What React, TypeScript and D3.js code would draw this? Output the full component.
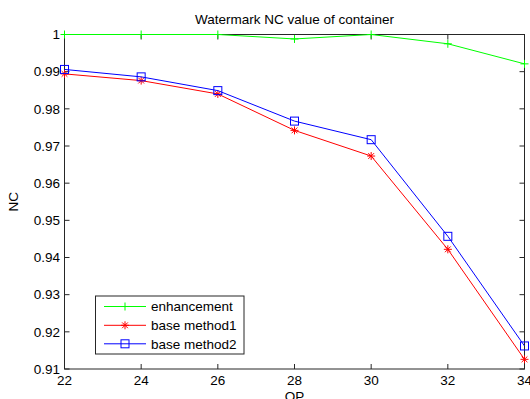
import React from "react";
import * as d3 from "d3";

// Quantisation parameters on the x axis
const qp = [22, 24, 26, 28, 30, 32, 34];

// NC values per method
const enhancement = [1.0, 1.0, 1.0, 0.9988, 1.0, 0.9975, 0.9921];
const baseMethod1 = [0.9894, 0.9876, 0.984, 0.9742, 0.9673, 0.9422, 0.9126];
const baseMethod2 = [0.9906, 0.9886, 0.9849, 0.9767, 0.9717, 0.9457, 0.9162];

const xTicks = [22, 24, 26, 28, 30, 32, 34];
const yTicks = [0.91, 0.92, 0.93, 0.94, 0.95, 0.96, 0.97, 0.98, 0.99, 1];

const seriesNames = ["enhancement", "base method1", "base method2"];
const seriesColors = ["#00ff00", "#ff0000", "#0000ff"];
const seriesMarkers = ["plus", "star", "square"];

const W = 530;
const H = 399;
const left = 64.5;
const right = 524.5;
const top = 34.5;
const bottom = 369;
const font = "'Liberation Sans', Arial, sans-serif";
const fs = 13.5;
const axisColor = "#262626";

function Marker({ kind, x, y, color }: { kind: string; x: number; y: number; color: string }) {
  const r = 4;
  if (kind === "plus") {
    return (
      <path d={`M${x - r},${y}H${x + r}M${x},${y - r}V${y + r}`} stroke={color} strokeWidth={1} fill="none" />
    );
  }
  if (kind === "star") {
    const d = r * 0.72;
    return (
      <path
        d={`M${x - r},${y}H${x + r}M${x},${y - r}V${y + r}M${x - d},${y - d}L${x + d},${y + d}M${x - d},${y + d}L${x + d},${y - d}`}
        stroke={color}
        strokeWidth={1}
        fill="none"
      />
    );
  }
  return <rect x={x - r} y={y - r} width={2 * r} height={2 * r} stroke={color} strokeWidth={1} fill="none" />;
}

export default function App() {
  const x = d3.scaleLinear().domain([22, 34]).range([left, right]);
  const y = d3.scaleLinear().domain([0.91, 1]).range([bottom, top]);
  const fmt = d3.format("~g");
  const series = [enhancement, baseMethod1, baseMethod2];
  const line = d3
    .line<number>()
    .x((_, i) => x(qp[i]))
    .y((v) => y(v));

  const tickLen = 5;
  const legX = 95.5;
  const legY = 296;
  const legW = 148.5;
  const legH = 58;
  const rowY = [306.5, 325.3, 343.8];

  return (
    <svg
      width={W}
      height={H}
      style={{ position: "absolute", left: 0, top: 0, background: "#fff" }}
      fontFamily={font}
    >
      <rect width={W} height={H} fill="#fff" />
      {/* axes box */}
      <rect x={left} y={top} width={right - left} height={bottom - top} fill="#fff" stroke={axisColor} strokeWidth={1} />
      {/* ticks */}
      {xTicks.map((t) => (
        <g key={`x${t}`}>
          <line x1={x(t)} x2={x(t)} y1={bottom} y2={bottom - tickLen} stroke={axisColor} />
          <line x1={x(t)} x2={x(t)} y1={top} y2={top + tickLen} stroke={axisColor} />
          <text x={x(t)} y={384.5} fontSize={fs} textAnchor="middle" fill="#000">
            {fmt(t)}
          </text>
        </g>
      ))}
      {yTicks.map((t) => (
        <g key={`y${t}`}>
          <line x1={left} x2={left + tickLen} y1={y(t)} y2={y(t)} stroke={axisColor} />
          <line x1={right} x2={right - tickLen} y1={y(t)} y2={y(t)} stroke={axisColor} />
          <text x={60} y={y(t)} dy="0.35em" fontSize={fs} textAnchor="end" fill="#000">
            {fmt(t)}
          </text>
        </g>
      ))}
      {/* series */}
      {series.map((s, si) => (
        <g key={seriesNames[si]}>
          <path d={line(s) || ""} fill="none" stroke={seriesColors[si]} strokeWidth={1} />
          {s.map((v, i) => (
            <Marker key={i} kind={seriesMarkers[si]} x={x(qp[i])} y={y(v)} color={seriesColors[si]} />
          ))}
        </g>
      ))}
      {/* labels */}
      <text x={(left + right) / 2} y={24} fontSize={fs} textAnchor="middle" fill="#000">
        Watermark NC value of container
      </text>
      <text x={(left + right) / 2} y={401} fontSize={fs} textAnchor="middle" fill="#000">
        QP
      </text>
      <text
        transform={`translate(17.5,${(top + bottom) / 2}) rotate(-90)`}
        fontSize={fs}
        textAnchor="middle"
        fill="#000"
      >
        NC
      </text>
      {/* legend */}
      <rect x={legX} y={legY} width={legW} height={legH} fill="#fff" stroke={axisColor} strokeWidth={1} />
      {seriesNames.map((n, i) => (
        <g key={n}>
          <line x1={104} x2={146} y1={rowY[i]} y2={rowY[i]} stroke={seriesColors[i]} />
          <Marker kind={seriesMarkers[i]} x={125} y={rowY[i]} color={seriesColors[i]} />
          <text x={151} y={rowY[i]} dy="0.35em" fontSize={fs} fill="#000">
            {n}
          </text>
        </g>
      ))}
    </svg>
  );
}
